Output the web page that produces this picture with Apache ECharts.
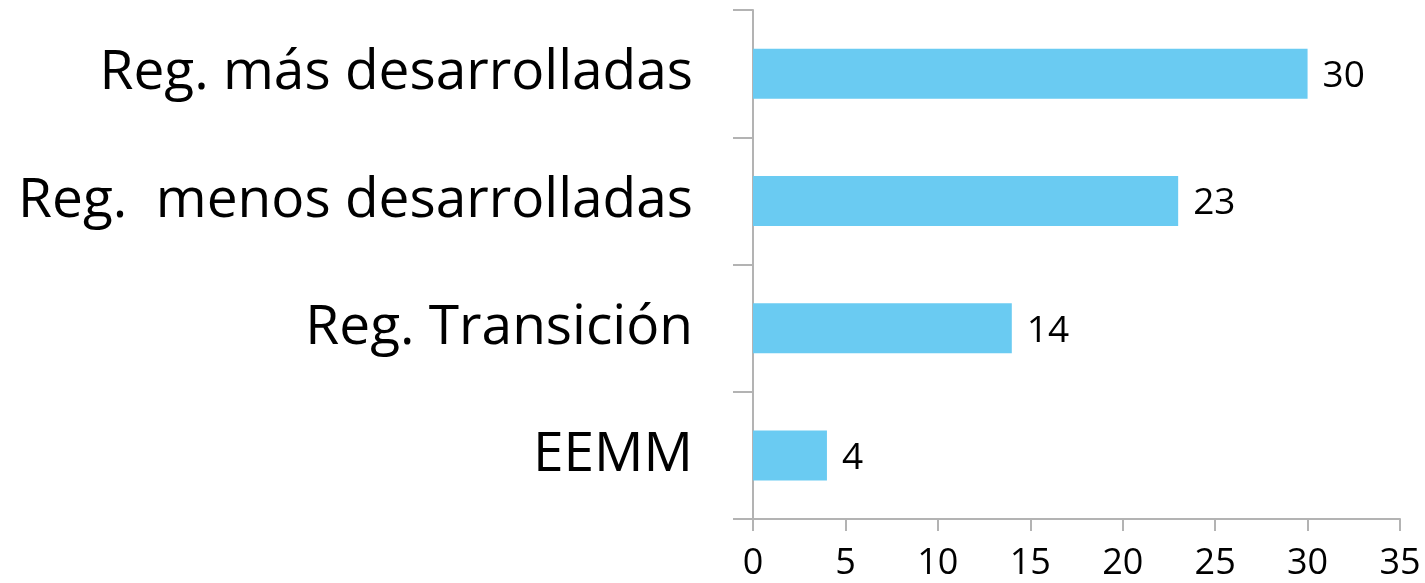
<!DOCTYPE html>
<html>
<head>
<meta charset="utf-8">
<script src="https://cdn.jsdelivr.net/npm/echarts@6/dist/echarts.min.js"></script>
<style>
html, body { margin: 0; padding: 0; background: #fff; }
#main { width: 1425px; height: 583px; }
</style>
</head>
<body>
<div id="main"></div>
<script>
var categorias = ['Reg. más desarrolladas', 'Reg.  menos desarrolladas', 'Reg. Transición', 'EEMM'];
var valores = [30, 23, 14, 4];
var ticksX = [0, 5, 10, 15, 20, 25, 30, 35];

var myChart = echarts.init(document.getElementById('main'));
var fuente = 'Open Sans';
var option = {
    animation: false,
    grid: { left: 753, right: 25, top: 10, bottom: 64, containLabel: false },
    xAxis: {
        type: 'value',
        min: ticksX[0],
        max: ticksX[ticksX.length - 1],
        interval: 5,
        axisLine: { show: true, lineStyle: { color: '#b3b3b3', width: 2 } },
        axisTick: { show: true, length: 12, lineStyle: { color: '#b3b3b3', width: 2 } },
        splitLine: { show: false },
        axisLabel: { color: '#000', fontSize: 36, fontFamily: fuente, margin: 27 }
    },
    yAxis: {
        type: 'category',
        inverse: true,
        data: categorias,
        axisLine: { show: true, lineStyle: { color: '#b3b3b3', width: 2 } },
        axisTick: { show: true, length: 20, lineStyle: { color: '#b3b3b3', width: 2 } },
        axisLabel: { color: '#000', fontSize: 55, fontFamily: fuente, margin: 60, padding: [5, 0, 0, 0] }
    },
    series: [{
        type: 'bar',
        data: valores,
        barWidth: 50,
        itemStyle: { color: '#6acbf2' },
        label: { show: true, position: 'right', distance: 15, offset: [0, 3], color: '#000', fontSize: 37, fontFamily: fuente }
    }]
};
myChart.setOption(option);
</script>
</body>
</html>
